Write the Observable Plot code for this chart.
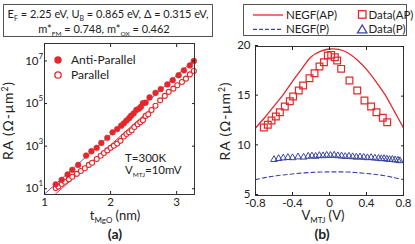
<!DOCTYPE html>
<html><head><meta charset="utf-8">
<script src="https://cdn.jsdelivr.net/npm/d3@7"></script>
<script src="https://cdn.jsdelivr.net/npm/@observablehq/plot@0.6"></script>
<style>
body{margin:0;background:#fff;}
#root{position:relative;width:415px;height:244px;overflow:hidden;}
.pl{position:absolute;top:0;}
#ov{position:absolute;left:0;top:0;pointer-events:none;font-family:Lato,"Liberation Sans",sans-serif;}
</style>
</head><body><div id="root"></div>
<script>
// ---------- Panel (a): RA vs t_MgO (log scale) ----------
const apThick = [1.17,1.26,1.35,1.42,1.51,1.63,1.71,1.79,1.86,1.95,2.03,2.10,2.16,2.20,2.24,2.28,2.31,2.35,2.39,2.43,2.46,2.49,2.53,2.59,2.68,2.76,2.86,2.94,3.03,3.11,3.20,3.26];
const apLogRA = [1.21,1.42,1.67,1.89,2.12,2.56,2.76,2.92,3.15,3.39,3.65,3.80,3.96,4.07,4.20,4.31,4.43,4.54,4.70,4.76,4.85,5.02,5.04,5.29,5.50,5.68,5.90,6.10,6.33,6.56,6.79,7.00];
const pThick = [1.17,1.21,1.26,1.31,1.37,1.42,1.49,1.55,1.61,1.67,1.72,1.79,1.85,1.90,1.95,2.00,2.05,2.10,2.15,2.20,2.24,2.28,2.32,2.36,2.41,2.45,2.49,2.53,2.57,2.62,2.68,2.75,2.82,2.88,2.95,3.01,3.08,3.14,3.20,3.26];
const pLogRA = [1.03,1.10,1.22,1.33,1.45,1.56,1.70,1.83,1.96,2.12,2.22,2.40,2.55,2.68,2.80,2.92,3.02,3.12,3.25,3.45,3.57,3.65,3.75,3.90,4.03,4.12,4.22,4.42,4.50,4.70,4.90,5.15,5.36,5.55,5.70,5.86,6.01,6.17,6.37,6.53];
const apFitThick = [1.0, 3.27];
const apFitLogRA = [0.75, 7.07];
const pFitThick = [1.12, 3.27];
const pFitLogRA = [0.62, 6.58];
const xTicksA = [1, 2, 3];
const yExpA = [1, 3, 5, 7];

// ---------- Panel (b): RA vs V_MTJ ----------
const negfV = [-0.8,-0.7,-0.6,-0.5,-0.4,-0.3,-0.2,-0.1,0.0,0.1,0.2,0.3,0.4,0.5,0.6,0.7,0.8];
const negfAP = [11.8,12.85,14.0,15.15,16.5,17.75,18.95,19.5,19.75,19.7,19.35,18.65,17.7,16.5,15.15,13.5,11.8];
const negfP = [6.6,6.8,6.95,7.07,7.17,7.26,7.32,7.36,7.38,7.38,7.36,7.3,7.22,7.12,6.98,6.8,6.6];
const dataAPV = [-0.71,-0.667,-0.627,-0.58,-0.537,-0.483,-0.429,-0.393,-0.332,-0.285,-0.216,-0.162,-0.108,-0.06,-0.018,0.018,0.058,0.083,0.126,0.216,0.30,0.378,0.45,0.508,0.576,0.624];
const dataAP = [11.84,12.12,12.55,12.95,13.38,13.96,14.49,14.96,15.57,16.07,16.81,17.31,17.99,18.42,19.09,19.16,18.92,18.59,17.75,16.58,15.57,14.56,13.96,13.38,12.82,12.38];
const dataPV = [-0.60,-0.55,-0.50,-0.45,-0.40,-0.34,-0.28,-0.23,-0.19,-0.15,-0.11,-0.07,-0.03,0.01,0.05,0.09,0.13,0.17,0.21,0.25,0.29,0.33,0.37,0.41,0.45,0.49,0.53,0.56,0.59,0.62,0.65,0.68,0.71,0.74,0.76];
const dataP = [8.62,8.72,8.78,8.82,8.80,8.88,8.86,8.95,8.98,8.94,9.02,9.0,9.05,9.03,9.06,9.0,8.98,8.92,8.95,8.9,8.86,8.88,8.84,8.8,8.82,8.76,8.74,8.7,8.72,8.66,8.62,8.64,8.58,8.55,8.5];
const xTicksB = [-0.8,-0.4,0,0.4,0.8];
const yTicksB = [5,10,15,20];

const red = "#e3282c", blue = "#3b46a3", ink = "#222";
const FONT = "Lato, 'Liberation Sans', sans-serif";
const tickStyle = {fontFamily: FONT, fontSize: "11.5px", color: ink, background: "none", overflow: "visible"};

const apRows = apThick.map((t,i)=>({t, ra: 10**apLogRA[i]}));
const pRows = pThick.map((t,i)=>({t, ra: 10**pLogRA[i]}));
const apFit = apFitThick.map((t,i)=>({t, ra: 10**apFitLogRA[i]}));
const pFit = pFitThick.map((t,i)=>({t, ra: 10**pFitLogRA[i]}));
const expRows = yExpA.map(e=>({v: 10**e, e: String(e)}));

const plotA = Plot.plot({
  width: 207, height: 244,
  marginLeft: 44, marginRight: 13, marginTop: 43, marginBottom: 50,
  style: tickStyle,
  x: {domain: [1, 3.27]},
  y: {type: "log", domain: [10**0.73, 10**7.82]},
  marks: [
    Plot.line(apFit, {x: "t", y: "ra", stroke: "#4a55b0", strokeWidth: 0.9, clip: true}),
    Plot.line(pFit, {x: "t", y: "ra", stroke: red, strokeWidth: 0.9, clip: true}),
    Plot.dot(pRows, {x: "t", y: "ra", r: 2.5, stroke: red, fill: "white", strokeWidth: 1.1}),
    Plot.dot(apRows, {x: "t", y: "ra", r: 2.9, fill: red, stroke: red, strokeWidth: 0.5}),
    Plot.frame({stroke: "#333", strokeWidth: 1}),
    Plot.axisX({ticks: xTicksA, tickSize: -3, tickPadding: 6, label: null, tickFormat: d => String(d)}),
    Plot.axisX({anchor: "top", ticks: xTicksA, tickSize: -3, tickFormat: () => "", label: null}),
    Plot.axisY({ticks: yExpA.map(e=>10**e), tickSize: -3, tickPadding: 9, tickFormat: () => "10", label: null}),
    Plot.axisY({anchor: "right", ticks: yExpA.map(e=>10**e), tickSize: -3, tickFormat: () => "", label: null}),
    Plot.text(expRows, {y: "v", text: "e", frameAnchor: "left", dx: -6, dy: -5, textAnchor: "start", fontSize: 8, fill: ink})
  ]
});

const rowsNAP = negfV.map((v,i)=>({v, ra: negfAP[i]}));
const rowsNP = negfV.map((v,i)=>({v, ra: negfP[i]}));
const rowsDAP = dataAPV.map((v,i)=>({v, ra: dataAP[i]}));
const rowsDP = dataPV.map((v,i)=>({v, ra: dataP[i]}));
const fmtB = d => d === 0 ? "0" : (d < 0 ? "-" : "") + Math.abs(d).toFixed(1);

const plotB = Plot.plot({
  width: 208, height: 244,
  marginLeft: 48, marginRight: 12, marginTop: 46, marginBottom: 49,
  style: tickStyle,
  x: {domain: [-0.8, 0.8]},
  y: {domain: [5, 20]},
  marks: [
    Plot.line(rowsNAP, {x: "v", y: "ra", stroke: red, strokeWidth: 1.3, curve: "catmull-rom"}),
    Plot.line(rowsNP, {x: "v", y: "ra", stroke: blue, strokeWidth: 1.1, strokeDasharray: "4,3", curve: "catmull-rom"}),
    Plot.dot(rowsDAP, {x: "v", y: "ra", symbol: "square", r: 3.8, stroke: red, fill: "none", strokeWidth: 1.2}),
    Plot.dot(rowsDP, {x: "v", y: "ra", symbol: "triangle", r: 2.5, stroke: blue, fill: "none", strokeWidth: 1}),
    Plot.frame({stroke: "#333", strokeWidth: 1}),
    Plot.axisX({ticks: xTicksB, tickSize: -3, tickPadding: 6, tickFormat: fmtB, label: null}),
    Plot.axisX({anchor: "top", ticks: xTicksB, tickSize: -3, tickFormat: () => "", label: null}),
    Plot.axisY({ticks: yTicksB, tickSize: -3, tickPadding: 8, label: null, dy: -1}),
    Plot.axisY({anchor: "right", ticks: yTicksB, tickSize: -3, tickFormat: () => "", label: null})
  ]
});

const root = document.getElementById("root");
plotA.classList.add("pl"); plotA.style.left = "0px";
plotB.classList.add("pl"); plotB.style.left = "207px";
root.appendChild(plotA);
root.appendChild(plotB);

// ---------- text overlay (titles, legends, annotations) ----------
const sub = (s, fs=7) => `<tspan font-size="${fs}" dy="3">${s}</tspan><tspan dy="-3">`;
const ov = `
<svg id="ov" width="415" height="244" fill="${ink}">
  <rect x="3.5" y="4.5" width="209" height="32" fill="white" stroke="#555" stroke-width="1"/>
  <text x="108" y="18.3" font-size="11" text-anchor="middle">E${sub("F")} = 2.25 eV, U</tspan>${sub("B")} = 0.865 eV, Δ = 0.315 eV,</tspan></text>
  <text x="104" y="33" font-size="11" text-anchor="middle">m*${sub("FM",6.5)} = 0.748, m*</tspan>${sub("OX",6.5)} = 0.462</tspan></text>

  <circle cx="58" cy="60" r="3.7" fill="${red}"/>
  <circle cx="58" cy="75" r="3.2" fill="white" stroke="${red}" stroke-width="1.3"/>
  <text x="71" y="64.2" font-size="12">Anti-Parallel</text>
  <text x="71" y="79.2" font-size="12">Parallel</text>

  <text x="125" y="161.5" font-size="11.5">T=300K</text>
  <text x="125" y="174" font-size="11.5">V${sub("MTJ",6.5)}=10mV</tspan></text>

  <text transform="translate(12.5,121) rotate(-90)" font-size="14" text-anchor="middle" textLength="78" lengthAdjust="spacing">RA (Ω-μm<tspan font-size="8.5" dy="-5">2</tspan><tspan dy="5">)</tspan></text>
  <text x="115" y="219.5" font-size="13" text-anchor="middle">t${sub("MgO",8)} (nm)</tspan></text>
  <text x="115" y="239" font-size="14" font-weight="bold" text-anchor="middle">(a)</text>

  <rect x="243.5" y="4.5" width="163" height="31" fill="white" stroke="#555" stroke-width="1"/>
  <line x1="253" y1="15" x2="283" y2="15" stroke="${red}" stroke-width="1.3"/>
  <line x1="253" y1="29.3" x2="283" y2="29.3" stroke="${blue}" stroke-width="1.2" stroke-dasharray="4,2"/>
  <text x="286" y="18.6" font-size="11.5">NEGF(AP)</text>
  <text x="286" y="33" font-size="11.5">NEGF(P)</text>
  <rect x="358.5" y="10.7" width="7.5" height="7.5" fill="none" stroke="${red}" stroke-width="1.3"/>
  <path d="M357.5,32.8 L362.2,25 L366.9,32.8 Z" fill="none" stroke="${blue}" stroke-width="1.3"/>
  <text x="368.5" y="18.6" font-size="11.5">Data(AP)</text>
  <text x="368.5" y="33" font-size="11.5">Data(P)</text>

  <text transform="translate(229.5,121.5) rotate(-90)" font-size="14" text-anchor="middle" textLength="78" lengthAdjust="spacing">RA (Ω-μm<tspan font-size="8.5" dy="-5">2</tspan><tspan dy="5">)</tspan></text>
  <text x="323" y="220" font-size="13" text-anchor="middle">V${sub("MTJ",8)} (V)</tspan></text>
  <text x="322" y="239" font-size="14" font-weight="bold" text-anchor="middle">(b)</text>
</svg>`;
root.insertAdjacentHTML("beforeend", ov);
</script>
</body></html>
